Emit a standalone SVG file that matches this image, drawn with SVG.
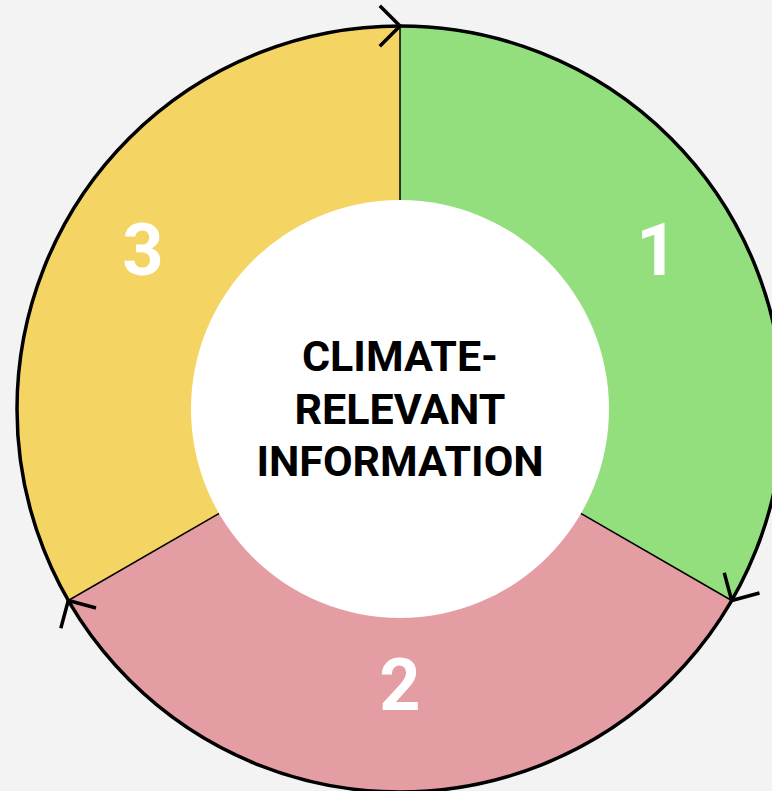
<svg xmlns="http://www.w3.org/2000/svg" width="772" height="791" viewBox="0 0 772 791">
<style>
.seg{stroke:none}
.div{stroke:#000;stroke-width:1.5;fill:none}
.rim{stroke:#000;stroke-width:3.5;fill:none}
.chev{stroke:#000;stroke-width:3.5;fill:none;stroke-linecap:square}
.num{font-family:Roboto,"Liberation Sans",sans-serif;font-weight:bold;font-size:72px;fill:#fff;text-anchor:middle}
.ctr{font-family:Roboto,"Liberation Sans",sans-serif;font-weight:bold;font-size:43px;fill:#000;text-anchor:middle}
</style>
<rect width="772" height="791" fill="#f3f3f3"/>
<g id="segment1">
<path class="seg" fill="#93df7e" d="M400,409 L400,26 A383,383 0 0 1 731.7,600.5 Z"/>
<text class="num" x="657" y="275">1</text>
</g>
<g id="segment2">
<path class="seg" fill="#e49da3" d="M400,409 L731.7,600.5 A383,383 0 0 1 68.3,600.5 Z"/>
<text class="num" x="400" y="710">2</text>
</g>
<g id="segment3">
<path class="seg" fill="#f4d563" d="M400,409 L68.3,600.5 A383,383 0 0 1 400,26 Z"/>
<text class="num" x="143" y="275">3</text>
</g>
<g id="connectors">
<line class="div" x1="400" y1="409" x2="400" y2="26"/>
<line class="div" x1="400" y1="409" x2="731.7" y2="600.5"/>
<line class="div" x1="400" y1="409" x2="68.3" y2="600.5"/>
<circle class="rim" cx="400" cy="409" r="383"/>
<polyline class="chev" points="381,7 400,26 381,45"/>
<polyline class="chev" points="724.7,574.5 731.7,600.5 757.8,593.5"/>
<polyline class="chev" points="94.3,607.5 68.3,600.5 61.3,626.5"/>
</g>
<g id="center">
<circle cx="400" cy="409" r="209" fill="#fff"/>
<text class="ctr" x="400" y="371">CLIMATE-</text>
<text class="ctr" x="400" y="424">RELEVANT</text>
<text class="ctr" x="400" y="476">INFORMATION</text>
</g>
</svg>
